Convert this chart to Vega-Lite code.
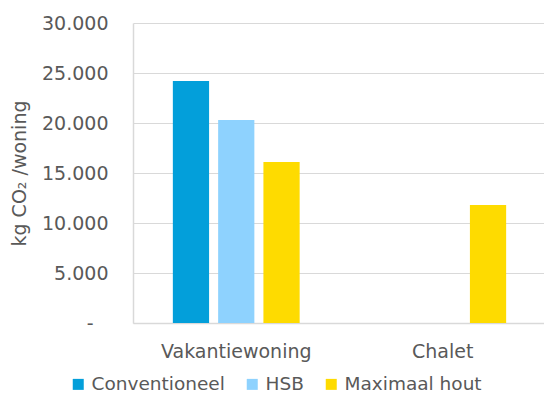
{
  "$schema": "https://vega.github.io/schema/vega-lite/v6.json",
  "autosize": {"type": "none"},
  "width": 413,
  "height": 300,
  "padding": {"left": 133, "top": 23, "right": 0, "bottom": 85},
  "background": "white",
  "config": {
    "view": {"stroke": null},
    "font": "DejaVu Sans",
    "text": {"font": "DejaVu Sans"}
  },
  "data": {
    "values": [
      {"type": "Vakantiewoning", "serie": "Conventioneel", "value": 24200},
      {"type": "Vakantiewoning", "serie": "HSB", "value": 20300},
      {"type": "Vakantiewoning", "serie": "Maximaal hout", "value": 16100},
      {"type": "Chalet", "serie": "Maximaal hout", "value": 11800}
    ]
  },
  "mark": {"type": "bar"},
  "encoding": {
    "x": {
      "field": "type",
      "type": "nominal",
      "sort": ["Vakantiewoning", "Chalet"],
      "scale": {"domain": ["Vakantiewoning", "Chalet"], "paddingInner": 0, "paddingOuter": 0},
      "axis": {
        "title": null,
        "labelAngle": 0,
        "labelFont": "DejaVu Sans",
        "labelFontSize": 19,
        "labelColor": "#595959",
        "labelPadding": 19,
        "ticks": false,
        "domain": true,
        "domainColor": "#d9d9d9",
        "domainWidth": 1.5
      }
    },
    "xOffset": {
      "field": "serie",
      "type": "nominal",
      "scale": {"domain": ["Conventioneel", "HSB", "Maximaal hout"], "paddingInner": 0.2, "paddingOuter": 0.88}
    },
    "y": {
      "field": "value",
      "type": "quantitative",
      "scale": {"domain": [0, 30000], "nice": false},
      "axis": {
        "title": "kg CO₂ /woning",
        "titleFont": "DejaVu Sans",
        "titleFontSize": 19,
        "titleFontWeight": "normal",
        "titleColor": "#595959",
        "titlePadding": 12,
        "values": [0, 5000, 10000, 15000, 20000, 25000, 30000],
        "labelExpr": "datum.value == 0 ? '-' : replace(format(datum.value, ','), ',', '.')",
        "labelFont": "DejaVu Sans",
        "labelFontSize": 19,
        "labelColor": "#595959",
        "labelPadding": {"condition": {"test": "datum.value == 0", "value": 40}, "value": 25},
        "ticks": false,
        "domain": true,
        "domainColor": "#d9d9d9",
        "domainWidth": 1.5,
        "grid": true,
        "gridColor": "#d9d9d9",
        "gridWidth": 1.2
      }
    },
    "color": {
      "field": "serie",
      "type": "nominal",
      "scale": {"domain": ["Conventioneel", "HSB", "Maximaal hout"], "range": ["#039fda", "#8ed2fe", "#fedb00"]},
      "legend": {
        "title": null,
        "orient": "none",
        "legendX": -64,
        "legendY": 352,
        "direction": "horizontal",
        "columns": 3,
        "symbolType": "square",
        "symbolSize": 121,
        "symbolStrokeWidth": 0,
        "symbolOpacity": 1,
        "labelFont": "DejaVu Sans",
        "labelFontSize": 18.5,
        "labelColor": "#595959",
        "labelOffset": 4,
        "columnPadding": 18,
        "labelLimit": 300
      }
    }
  }
}
